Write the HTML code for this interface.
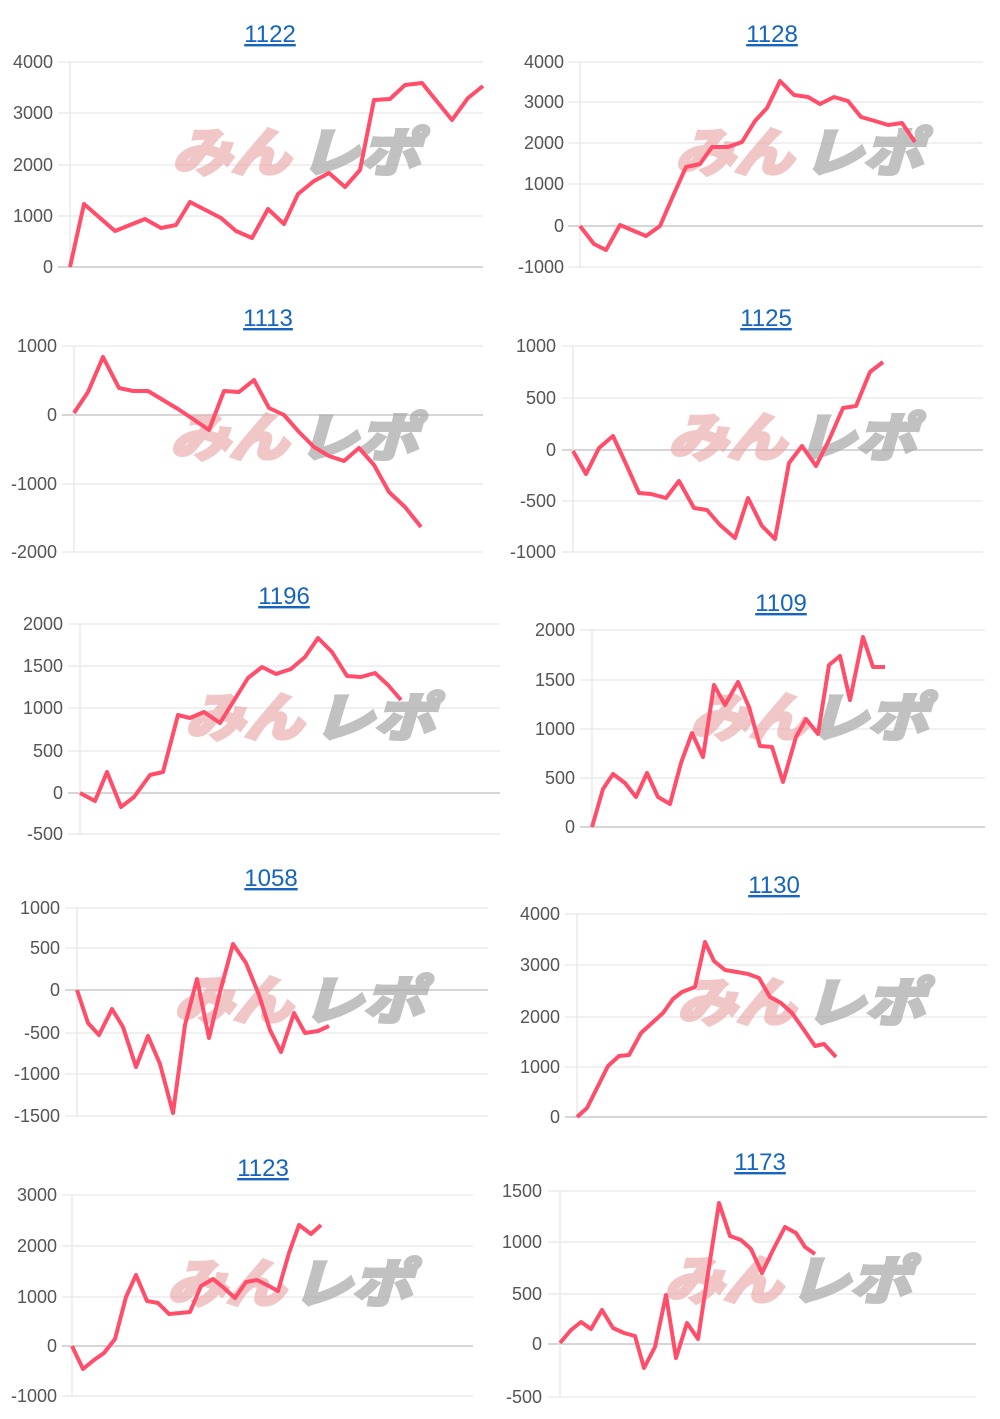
<!DOCTYPE html>
<html><head><meta charset="utf-8"><style>
html,body{margin:0;padding:0;background:#fff;width:1000px;height:1419px;overflow:hidden}
svg{display:block}
.t{font-family:"Liberation Sans",sans-serif;font-size:24px;fill:#1565c0;text-anchor:middle;text-decoration:underline}
.l{font-family:"Liberation Sans",sans-serif;font-size:18px;fill:#555;text-anchor:end}
.g{stroke:#e6e6e6;stroke-width:1.3}
.z{stroke:#c8c8c8;stroke-width:1.5}
.ln{fill:none;stroke:#ff4d6a;stroke-width:4;stroke-linejoin:round}
.wp{font-family:"Liberation Sans","Noto Sans CJK JP",sans-serif;font-size:52px;font-weight:bold;font-style:italic;fill:#eaa8a8;stroke:#eaa8a8;stroke-width:4;opacity:.65}
.wg{font-family:"Liberation Sans","Noto Sans CJK JP",sans-serif;font-size:52px;font-weight:bold;font-style:italic;fill:#a8a8a8;stroke:#a8a8a8;stroke-width:4;opacity:.7}
</style></head><body>
<svg width="1000" height="1419" viewBox="0 0 1000 1419" xmlns="http://www.w3.org/2000/svg">
<!-- chart 1122 -->
<text class="t" x="270" y="42">1122</text>
<g><line class="g" x1="58" y1="62" x2="483" y2="62"/><line class="g" x1="58" y1="113" x2="483" y2="113"/><line class="g" x1="58" y1="165" x2="483" y2="165"/><line class="g" x1="58" y1="216" x2="483" y2="216"/><line class="z" x1="58" y1="267" x2="483" y2="267"/><line class="g" x1="70" y1="62" x2="70" y2="267"/></g>
<text class="l" x="53" y="68">4000</text><text class="l" x="53" y="119">3000</text><text class="l" x="53" y="171">2000</text><text class="l" x="53" y="222">1000</text><text class="l" x="53" y="273">0</text>
<text class="wp" x="172" y="171" textLength="118" lengthAdjust="spacingAndGlyphs">みん</text><text class="wg" x="300" y="171" textLength="120" lengthAdjust="spacingAndGlyphs">レポ</text>
<polyline class="ln" points="70,267 84,204 115,231 145,219 161,228 176,225 190,202 221,218 236,231 252,238 268,209 284,224 298,194 314,181 329,173 345,187 360,170 374,100 390,99 405,85 422,83 452,120 468,98 483,86"/>
<!-- chart 1128 -->
<text class="t" x="772" y="42">1128</text>
<g><line class="g" x1="568" y1="62" x2="983" y2="62"/><line class="g" x1="568" y1="102" x2="983" y2="102"/><line class="g" x1="568" y1="143" x2="983" y2="143"/><line class="g" x1="568" y1="184" x2="983" y2="184"/><line class="z" x1="568" y1="226" x2="983" y2="226"/><line class="g" x1="568" y1="267" x2="983" y2="267"/><line class="g" x1="580" y1="62" x2="580" y2="267"/></g>
<text class="l" x="564" y="68">4000</text><text class="l" x="564" y="108">3000</text><text class="l" x="564" y="149">2000</text><text class="l" x="564" y="190">1000</text><text class="l" x="564" y="232">0</text><text class="l" x="564" y="273">-1000</text>
<text class="wp" x="675" y="171" textLength="118" lengthAdjust="spacingAndGlyphs">みん</text><text class="wg" x="803" y="171" textLength="120" lengthAdjust="spacingAndGlyphs">レポ</text>
<polyline class="ln" points="580,226 594,244 606,250 620,225 646,236 660,226 673,196 686,167 700,164 712,147 728,147 742,142 755,121 767,108 780,81 794,95 808,97 820,104 834,97 848,101 861,117 875,121 888,125 902,123 915,142"/>
<!-- chart 1113 -->
<text class="t" x="268" y="326">1113</text>
<g><line class="g" x1="62" y1="346" x2="483" y2="346"/><line class="z" x1="62" y1="415" x2="483" y2="415"/><line class="g" x1="62" y1="484" x2="483" y2="484"/><line class="g" x1="62" y1="552" x2="483" y2="552"/><line class="g" x1="74" y1="346" x2="74" y2="552"/></g>
<text class="l" x="57" y="352">1000</text><text class="l" x="57" y="421">0</text><text class="l" x="57" y="490">-1000</text><text class="l" x="57" y="558">-2000</text>
<text class="wp" x="170" y="456" textLength="118" lengthAdjust="spacingAndGlyphs">みん</text><text class="wg" x="298" y="456" textLength="120" lengthAdjust="spacingAndGlyphs">レポ</text>
<polyline class="ln" points="74,413 88,392 103,357 119,388 133,391 148,391 163,400 178,409 193,419 209,430 224,391 239,392 254,380 269,408 284,415 299,432 314,447 329,456 344,461 359,448 374,465 389,492 405,507 421,527"/>
<!-- chart 1125 -->
<text class="t" x="766" y="326">1125</text>
<g><line class="g" x1="562" y1="346" x2="983" y2="346"/><line class="g" x1="562" y1="398" x2="983" y2="398"/><line class="z" x1="562" y1="450" x2="983" y2="450"/><line class="g" x1="562" y1="501" x2="983" y2="501"/><line class="g" x1="562" y1="552" x2="983" y2="552"/><line class="g" x1="573" y1="346" x2="573" y2="552"/></g>
<text class="l" x="556" y="352">1000</text><text class="l" x="556" y="404">500</text><text class="l" x="556" y="456">0</text><text class="l" x="556" y="507">-500</text><text class="l" x="556" y="558">-1000</text>
<text class="wp" x="668" y="456" textLength="118" lengthAdjust="spacingAndGlyphs">みん</text><text class="wg" x="796" y="456" textLength="120" lengthAdjust="spacingAndGlyphs">レポ</text>
<polyline class="ln" points="573,451 586,474 599,448 613,436 626,464 639,493 651,494 666,498 679,481 694,508 707,510 720,525 735,538 748,498 762,526 775,539 789,463 802,446 816,466 829,440 843,408 856,406 870,372 883,362"/>
<!-- chart 1196 -->
<text class="t" x="284" y="604">1196</text>
<g><line class="g" x1="68" y1="624" x2="500" y2="624"/><line class="g" x1="68" y1="666" x2="500" y2="666"/><line class="g" x1="68" y1="708" x2="500" y2="708"/><line class="g" x1="68" y1="751" x2="500" y2="751"/><line class="z" x1="68" y1="793" x2="500" y2="793"/><line class="g" x1="68" y1="834" x2="500" y2="834"/><line class="g" x1="80" y1="624" x2="80" y2="834"/></g>
<text class="l" x="63" y="630">2000</text><text class="l" x="63" y="672">1500</text><text class="l" x="63" y="714">1000</text><text class="l" x="63" y="757">500</text><text class="l" x="63" y="799">0</text><text class="l" x="63" y="840">-500</text>
<text class="wp" x="185" y="736" textLength="118" lengthAdjust="spacingAndGlyphs">みん</text><text class="wg" x="313" y="736" textLength="122" lengthAdjust="spacingAndGlyphs">レポ</text>
<polyline class="ln" points="80,793 95,801 107,772 121,807 134,797 150,775 163,772 178,715 190,718 204,712 220,723 248,678 262,667 276,674 291,669 305,657 318,638 332,652 347,676 361,677 375,673 388,685 401,700"/>
<!-- chart 1109 -->
<text class="t" x="781" y="611">1109</text>
<g><line class="g" x1="580" y1="630" x2="985" y2="630"/><line class="g" x1="580" y1="680" x2="985" y2="680"/><line class="g" x1="580" y1="729" x2="985" y2="729"/><line class="g" x1="580" y1="778" x2="985" y2="778"/><line class="z" x1="580" y1="827" x2="985" y2="827"/><line class="g" x1="592" y1="630" x2="592" y2="827"/></g>
<text class="l" x="575" y="636">2000</text><text class="l" x="575" y="686">1500</text><text class="l" x="575" y="735">1000</text><text class="l" x="575" y="784">500</text><text class="l" x="575" y="833">0</text>
<text class="wp" x="690" y="736" textLength="118" lengthAdjust="spacingAndGlyphs">みん</text><text class="wg" x="808" y="736" textLength="120" lengthAdjust="spacingAndGlyphs">レポ</text>
<polyline class="ln" points="592,827 603,789 613,774 625,783 636,797 647,773 658,797 670,804 681,763 692,733 703,757 714,685 725,705 738,682 749,707 760,746 772,747 783,782 796,737 806,719 818,734 829,665 840,656 850,700 863,637 873,667 885,667"/>
<!-- chart 1058 -->
<text class="t" x="271" y="886">1058</text>
<g><line class="g" x1="65" y1="908" x2="488" y2="908"/><line class="g" x1="65" y1="948" x2="488" y2="948"/><line class="z" x1="65" y1="990" x2="488" y2="990"/><line class="g" x1="65" y1="1033" x2="488" y2="1033"/><line class="g" x1="65" y1="1074" x2="488" y2="1074"/><line class="g" x1="65" y1="1116" x2="488" y2="1116"/><line class="g" x1="77" y1="908" x2="77" y2="1116"/></g>
<text class="l" x="60" y="914">1000</text><text class="l" x="60" y="954">500</text><text class="l" x="60" y="996">0</text><text class="l" x="60" y="1039">-500</text><text class="l" x="60" y="1080">-1000</text><text class="l" x="60" y="1122">-1500</text>
<text class="wp" x="174" y="1019" textLength="118" lengthAdjust="spacingAndGlyphs">みん</text><text class="wg" x="302" y="1019" textLength="122" lengthAdjust="spacingAndGlyphs">レポ</text>
<polyline class="ln" points="77,990 88,1023 99,1035 112,1009 123,1027 136,1067 148,1036 160,1064 173,1113 185,1025 197,979 209,1038 220,992 233,944 246,963 259,995 270,1030 281,1052 294,1013 305,1033 318,1031 329,1026"/>
<!-- chart 1130 -->
<text class="t" x="774" y="893">1130</text>
<g><line class="g" x1="565" y1="914" x2="987" y2="914"/><line class="g" x1="565" y1="965" x2="987" y2="965"/><line class="g" x1="565" y1="1017" x2="987" y2="1017"/><line class="g" x1="565" y1="1067" x2="987" y2="1067"/><line class="z" x1="565" y1="1117" x2="987" y2="1117"/><line class="g" x1="577" y1="914" x2="577" y2="1117"/></g>
<text class="l" x="560" y="920">4000</text><text class="l" x="560" y="971">3000</text><text class="l" x="560" y="1023">2000</text><text class="l" x="560" y="1073">1000</text><text class="l" x="560" y="1123">0</text>
<text class="wp" x="677" y="1021" textLength="118" lengthAdjust="spacingAndGlyphs">みん</text><text class="wg" x="805" y="1021" textLength="120" lengthAdjust="spacingAndGlyphs">レポ</text>
<polyline class="ln" points="577,1117 587,1108 597,1088 608,1066 619,1056 629,1055 641,1033 652,1023 663,1013 673,999 682,992 695,987 705,942 714,961 725,970 737,972 748,974 759,978 770,997 781,1003 792,1013 804,1030 815,1046 824,1044 836,1057"/>
<!-- chart 1123 -->
<text class="t" x="263" y="1176">1123</text>
<g><line class="g" x1="62" y1="1195" x2="473" y2="1195"/><line class="g" x1="62" y1="1246" x2="473" y2="1246"/><line class="g" x1="62" y1="1297" x2="473" y2="1297"/><line class="z" x1="62" y1="1346" x2="473" y2="1346"/><line class="g" x1="62" y1="1396" x2="473" y2="1396"/><line class="g" x1="72" y1="1195" x2="72" y2="1396"/></g>
<text class="l" x="57" y="1201">3000</text><text class="l" x="57" y="1252">2000</text><text class="l" x="57" y="1303">1000</text><text class="l" x="57" y="1352">0</text><text class="l" x="57" y="1402">-1000</text>
<text class="wp" x="167" y="1302" textLength="118" lengthAdjust="spacingAndGlyphs">みん</text><text class="wg" x="292" y="1302" textLength="120" lengthAdjust="spacingAndGlyphs">レポ</text>
<polyline class="ln" points="72,1346 83,1369 94,1360 104,1353 115,1339 126,1297 136,1275 147,1301 158,1303 169,1314 180,1313 190,1312 201,1286 213,1279 224,1288 235,1298 246,1282 257,1280 267,1285 278,1291 289,1253 299,1225 311,1234 321,1225"/>
<!-- chart 1173 -->
<text class="t" x="760" y="1170">1173</text>
<g><line class="g" x1="548" y1="1191" x2="976" y2="1191"/><line class="g" x1="548" y1="1242" x2="976" y2="1242"/><line class="g" x1="548" y1="1294" x2="976" y2="1294"/><line class="z" x1="548" y1="1344" x2="976" y2="1344"/><line class="g" x1="548" y1="1397" x2="976" y2="1397"/><line class="g" x1="560" y1="1191" x2="560" y2="1397"/></g>
<text class="l" x="542" y="1197">1500</text><text class="l" x="542" y="1248">1000</text><text class="l" x="542" y="1300">500</text><text class="l" x="542" y="1350">0</text><text class="l" x="542" y="1403">-500</text>
<text class="wp" x="664" y="1299" textLength="118" lengthAdjust="spacingAndGlyphs">みん</text><text class="wg" x="789" y="1299" textLength="122" lengthAdjust="spacingAndGlyphs">レポ</text>
<polyline class="ln" points="560,1343 571,1330 581,1322 591,1329 602,1310 613,1328 624,1333 635,1336 644,1368 655,1347 666,1295 676,1358 687,1323 698,1339 709,1267 719,1203 730,1236 741,1240 751,1249 762,1273 773,1250 785,1227 796,1233 805,1247 815,1254"/>
</svg>
</body></html>
